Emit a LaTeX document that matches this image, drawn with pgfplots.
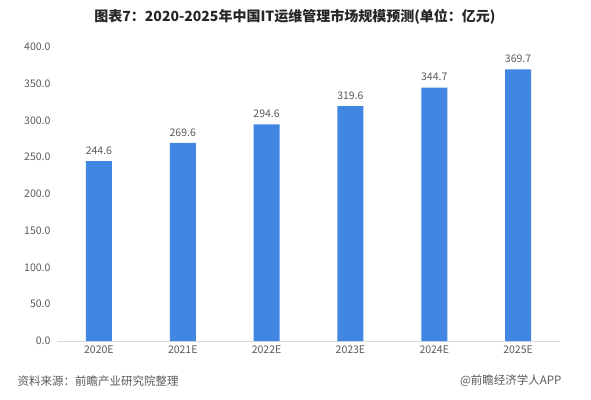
\documentclass[border=0pt]{standalone}
\usepackage{fontspec}
\setmainfont{Noto Sans CJK SC}
\usepackage{pgfplots}
\pgfplotsset{compat=1.18}
\definecolor{barblue}{RGB}{64,134,226}
\definecolor{txtgray}{RGB}{90,90,90}
\definecolor{axgray}{RGB}{217,217,217}
\begin{document}
\begin{tikzpicture}[x=1pt,y=1pt]
\useasboundingbox (0,0) rectangle (591,399);
\fill[white] (0,0) rectangle (591,399);
\begin{axis}[
  at={(57pt,58pt)}, anchor=south west,
  scale only axis, width=503pt, height=294pt,
  xmin=-0.5, xmax=5.5, ymin=0, ymax=400,
  ytick={0,50,...,400},
  xtick={0,1,2,3,4,5},
  xticklabels={2020E,2021E,2022E,2023E,2024E,2025E},
  axis x line*=bottom, axis y line*=left,
  x axis line style={draw=axgray, line width=0.8pt},
  y axis line style={draw=none},
  major tick length=0pt,
  tick label style={font=\fontsize{10.5}{12}\selectfont, text=txtgray},
  /pgf/number format/assume math mode=true,
  yticklabel style={/pgf/number format/fixed, /pgf/number format/fixed zerofill, /pgf/number format/precision=1, xshift=-3pt},
  xticklabel style={yshift=-1pt},
  ybar, bar width=26pt,
  nodes near coords,
  nodes near coords style={font=\fontsize{10.5}{12}\selectfont, text=txtgray, yshift=3pt,
    /pgf/number format/fixed, /pgf/number format/fixed zerofill, /pgf/number format/precision=1},
  clip=false,
]
\addplot[fill=barblue, draw=none] coordinates {(0,244.6) (1,269.6) (2,294.6) (3,319.6) (4,344.7) (5,369.7)};
\end{axis}
\node[font=\fontsize{14}{16}\selectfont\bfseries, text=black!85] at (295,382) {图表7：2020-2025年中国IT运维管理市场规模预测(单位：亿元)};
\node[anchor=west, font=\fontsize{11.5}{13}\selectfont, text=txtgray] at (14,18) {资料来源：前瞻产业研究院整理};
\node[anchor=east, font=\fontsize{11.5}{13}\selectfont, text=txtgray] at (565,18) {@前瞻经济学人APP};
\end{tikzpicture}
\end{document}
